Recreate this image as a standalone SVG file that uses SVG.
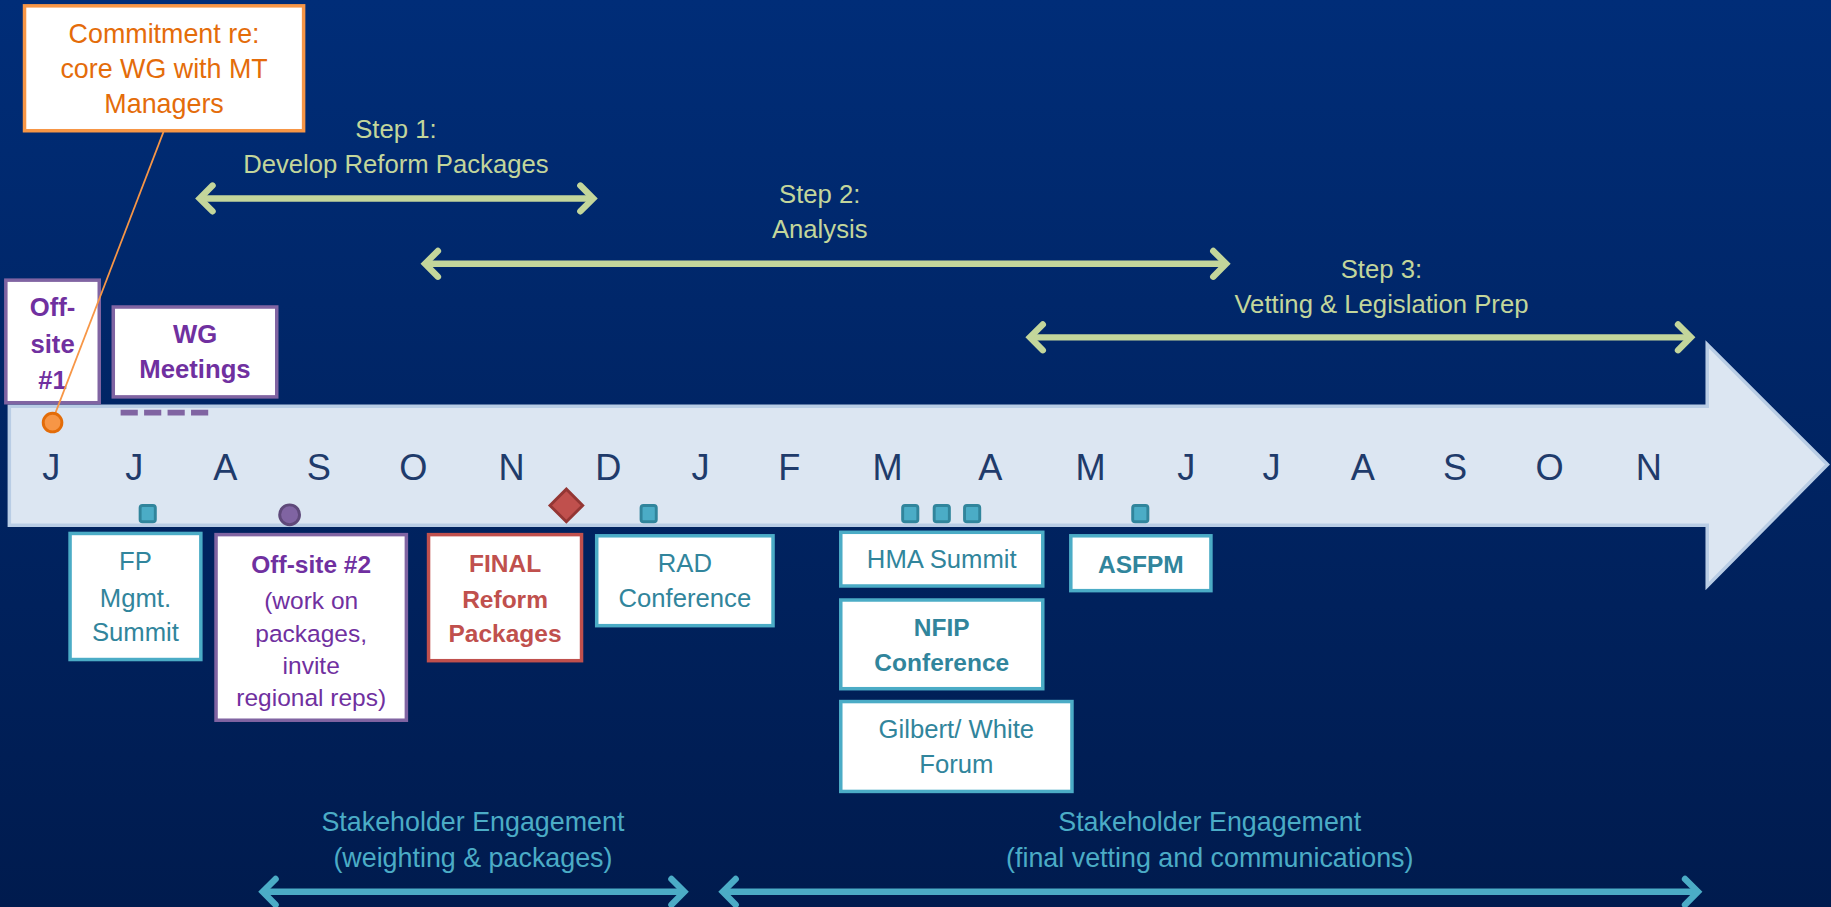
<svg xmlns="http://www.w3.org/2000/svg" width="1831" height="907" viewBox="0 0 1831 907">
<defs>
<linearGradient id="bg" x1="0" y1="0" x2="0" y2="1">
<stop offset="0" stop-color="#002D78"/>
<stop offset="1" stop-color="#001B4E"/>
</linearGradient>
<marker id="mg" viewBox="-18 -16 22 32" refX="0" refY="0" markerWidth="22" markerHeight="32" markerUnits="userSpaceOnUse" orient="auto-start-reverse" overflow="visible">
<path d="M-11,-11 L0,0 L-11,11" fill="none" stroke="#C3D69B" stroke-width="5.5" stroke-linecap="round" stroke-linejoin="miter"/>
</marker>
<marker id="mt" viewBox="-18 -16 22 32" refX="0" refY="0" markerWidth="22" markerHeight="32" markerUnits="userSpaceOnUse" orient="auto-start-reverse" overflow="visible">
<path d="M-11,-11 L0,0 L-11,11" fill="none" stroke="#4BACC6" stroke-width="5.5" stroke-linecap="round" stroke-linejoin="miter"/>
</marker>
<style>
text{font-family:"Liberation Sans",Arial,sans-serif;text-anchor:middle}
.box{fill:#ffffff;stroke-width:3}
.bp{stroke:#8064A2}
.bt{stroke:#4BACC6}
.br{stroke:#C0504D}
.bo{stroke:#F79646}
.tp{fill:#7030A0;font-weight:bold;font-size:22px}
.tpr{fill:#7030A0;font-size:21px}
.tt{fill:#31859C;font-size:22px}
.ttb{fill:#31859C;font-size:21px;font-weight:bold}
.tr{fill:#C0504D;font-size:21px;font-weight:bold}
.to{fill:#E46C0A;font-size:23px}
.ts{fill:#C3D69B;font-size:22px}
.tk{fill:#4BACC6;font-size:23px}
.mon{fill:#1F3B6B;font-size:31px}
.ga{stroke:#C3D69B;stroke-width:5.5;fill:none;marker-start:url(#mg);marker-end:url(#mg)}
.ka{stroke:#4BACC6;stroke-width:5.5;fill:none;marker-start:url(#mt);marker-end:url(#mt)}
.sq{fill:#4BACC6;stroke:#31859C;stroke-width:2.5}
</style>
</defs>
<rect width="1831" height="907" fill="url(#bg)"/>
<g transform="scale(1.16773,1.16731)">
<g id="timeline">
<polygon points="8,348 1462,348 1462,295 1565,398 1462,502 1462,450 8,450" fill="#DCE6F2" stroke="#B9CDE5" stroke-width="3"/>
<g id="months">
<text class="mon" x="44" y="411">J</text>
<text class="mon" x="115" y="411">J</text>
<text class="mon" x="193" y="411">A</text>
<text class="mon" x="273" y="411">S</text>
<text class="mon" x="354" y="411">O</text>
<text class="mon" x="438" y="411">N</text>
<text class="mon" x="521" y="411">D</text>
<text class="mon" x="600" y="411">J</text>
<text class="mon" x="676" y="411">F</text>
<text class="mon" x="760" y="411">M</text>
<text class="mon" x="848" y="411">A</text>
<text class="mon" x="934" y="411">M</text>
<text class="mon" x="1016" y="411">J</text>
<text class="mon" x="1089" y="411">J</text>
<text class="mon" x="1167" y="411">A</text>
<text class="mon" x="1246" y="411">S</text>
<text class="mon" x="1327" y="411">O</text>
<text class="mon" x="1412" y="411">N</text>
</g>
</g>
<g id="commitment">
<rect class="box bo" x="21" y="5" width="239" height="107"/>
<text class="to" x="140.5" y="37">Commitment re:</text>
<text class="to" x="140.5" y="67">core WG with MT</text>
<text class="to" x="140.5" y="97">Managers</text>
</g>
<g id="offsite1">
<rect class="box bp" x="5" y="240" width="80" height="105"/>
<text class="tp" x="45" y="271">Off-</text>
<text class="tp" x="45" y="302">site</text>
<text class="tp" x="45" y="333">#1</text>
</g>
<g id="wg">
<rect class="box bp" x="97" y="263" width="140" height="77"/>
<text class="tp" x="167" y="294">WG</text>
<text class="tp" x="167" y="324">Meetings</text>
</g>
<g id="step1">
<text class="ts" x="339" y="118">Step 1:</text>
<text class="ts" x="339" y="148">Develop Reform Packages</text>
</g>
<g id="step2">
<text class="ts" x="702" y="174">Step 2:</text>
<text class="ts" x="702" y="204">Analysis</text>
</g>
<g id="step3">
<text class="ts" x="1183" y="238">Step 3:</text>
<text class="ts" x="1183" y="268">Vetting &amp; Legislation Prep</text>
</g>
<g id="fp">
<rect class="box bt" x="60" y="457" width="112" height="108"/>
<text class="tt" x="116" y="488">FP</text>
<text class="tt" x="116" y="520">Mgmt.</text>
<text class="tt" x="116" y="549">Summit</text>
</g>
<g id="offsite2">
<rect class="box bp" x="185" y="458" width="163" height="159"/>
<text class="tp" x="266.5" y="491" style="font-size:21px">Off-site #2</text>
<text class="tpr" x="266.5" y="522">(work on</text>
<text class="tpr" x="266.5" y="550">packages,</text>
<text class="tpr" x="266.5" y="577">invite</text>
<text class="tpr" x="266.5" y="605">regional reps)</text>
</g>
<g id="final">
<rect class="box br" x="367" y="458" width="131" height="108"/>
<text class="tr" x="432.5" y="490">FINAL</text>
<text class="tr" x="432.5" y="521">Reform</text>
<text class="tr" x="432.5" y="550">Packages</text>
</g>
<g id="rad">
<rect class="box bt" x="511" y="459" width="151" height="77"/>
<text class="tt" x="586.5" y="490">RAD</text>
<text class="tt" x="586.5" y="520">Conference</text>
</g>
<g id="hma">
<rect class="box bt" x="720" y="456" width="173" height="46"/>
<text class="tt" x="806.5" y="487">HMA Summit</text>
</g>
<g id="nfip">
<rect class="box bt" x="720" y="514" width="173" height="76"/>
<text class="ttb" x="806.5" y="545">NFIP</text>
<text class="ttb" x="806.5" y="575">Conference</text>
</g>
<g id="gilbert">
<rect class="box bt" x="720" y="601" width="198" height="77"/>
<text class="tt" x="819" y="632">Gilbert/ White</text>
<text class="tt" x="819" y="662">Forum</text>
</g>
<g id="asfpm">
<rect class="box bt" x="917" y="459" width="120" height="47"/>
<text class="ttb" x="977" y="491">ASFPM</text>
</g>
<g id="stake1">
<text class="tk" x="405" y="712">Stakeholder Engagement</text>
<text class="tk" x="405" y="743">(weighting &amp; packages)</text>
</g>
<g id="stake2">
<text class="tk" x="1036" y="712">Stakeholder Engagement</text>
<text class="tk" x="1036" y="743">(final vetting and communications)</text>
</g>
<g id="connectors">
<line x1="140" y1="113" x2="47" y2="355" stroke="#F79646" stroke-width="1.5"/>
<line class="ga" x1="171" y1="170" x2="508" y2="170"/>
<line class="ga" x1="364" y1="226" x2="1050" y2="226"/>
<line class="ga" x1="882" y1="289" x2="1448" y2="289"/>
<line class="ka" x1="225" y1="764" x2="586" y2="764"/>
<line class="ka" x1="619" y1="764" x2="1454" y2="764"/>
</g>
<g id="markers">
<circle cx="45" cy="362" r="8" fill="#F79646" stroke="#E36C09" stroke-width="2.5"/>
<line x1="103.3" y1="353.5" x2="178.5" y2="353.5" stroke="#8064A2" stroke-width="5" stroke-dasharray="14.7 5.4"/>
<rect class="sq" x="120" y="433" width="13" height="14" rx="2"/>
<circle cx="248" cy="441" r="8.5" fill="#8064A2" stroke="#5F497A" stroke-width="2.5"/>
<polygon points="485,419 499,433 485,447 471,433" fill="#C0504D" stroke="#943634" stroke-width="2.5"/>
<rect class="sq" x="549" y="433" width="13" height="14" rx="2"/>
<rect class="sq" x="773" y="433" width="13" height="14" rx="2"/>
<rect class="sq" x="800" y="433" width="13" height="14" rx="2"/>
<rect class="sq" x="826" y="433" width="13" height="14" rx="2"/>
<rect class="sq" x="970" y="433" width="13" height="14" rx="2"/>
</g>
</g>
</svg>
